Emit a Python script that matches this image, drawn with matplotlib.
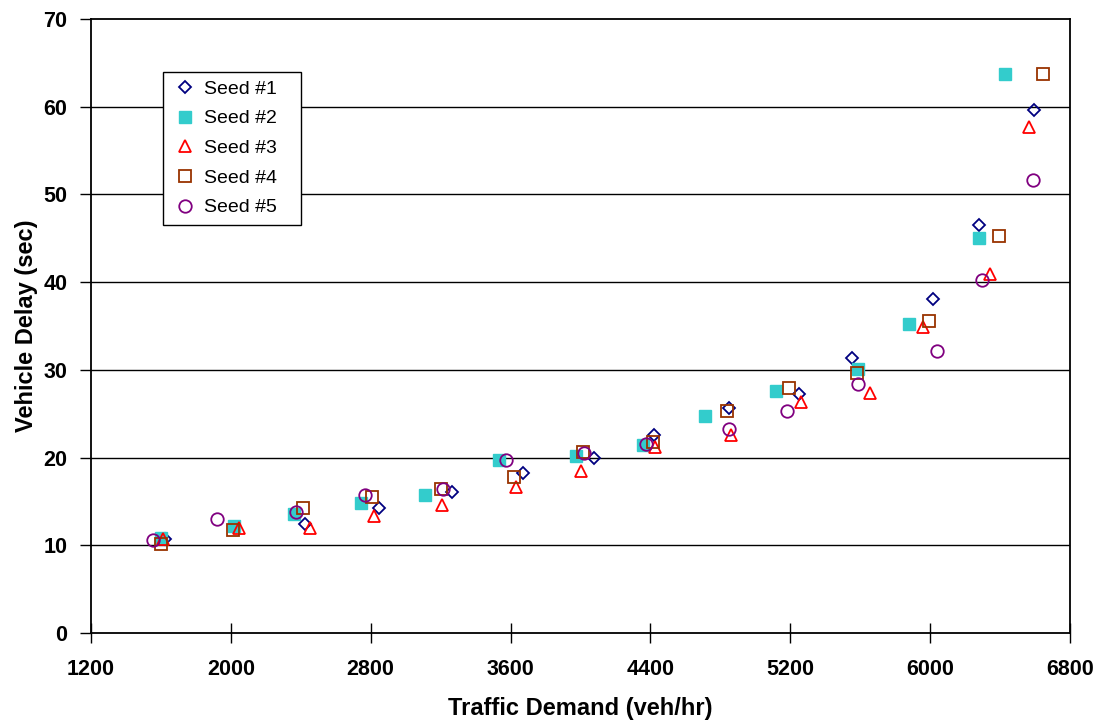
import matplotlib
matplotlib.use("Agg")
import matplotlib.pyplot as plt

plt.rcParams["font.family"] = ["Liberation Sans", "DejaVu Sans"]

# ── Data ──────────────────────────────────────────────────────────────
seed1_x = [1623, 2424, 2847, 3265, 3671, 4077, 4420, 4849, 5250, 5555, 6016, 6279, 6597]
seed1_y = [10.7, 12.4, 14.3, 16.1, 18.2, 19.95, 22.6, 25.7, 27.2, 31.4, 38.1, 46.5, 59.6]

seed2_x = [1600, 2018, 2361, 2744, 3111, 3534, 3976, 4357, 4712, 5118, 5587, 5879, 6279, 6428]
seed2_y = [10.8, 12.2, 13.6, 14.8, 15.7, 19.7, 20.2, 21.4, 24.7, 27.6, 30.1, 35.2, 45.0, 63.7]

seed3_x = [1612, 2047, 2452, 2818, 3208, 3631, 4003, 4426, 4861, 5261, 5656, 5959, 6342, 6565]
seed3_y = [10.7, 12.0, 12.0, 13.3, 14.6, 16.6, 18.5, 21.2, 22.6, 26.3, 27.4, 34.9, 40.9, 57.7]

seed4_x = [1600, 2012, 2413, 2807, 3205, 3620, 4014, 4415, 4838, 5193, 5581, 5993, 6394, 6645]
seed4_y = [10.2, 11.7, 14.3, 15.5, 16.4, 17.8, 20.6, 21.8, 25.3, 27.9, 29.6, 35.6, 45.3, 63.7]

seed5_x = [1555, 1921, 2373, 2767, 3213, 3574, 4020, 4375, 4849, 5181, 5587, 6039, 6296, 6588]
seed5_y = [10.6, 13.0, 13.8, 15.7, 16.4, 19.7, 20.5, 21.5, 23.3, 25.3, 28.4, 32.1, 40.2, 51.6]

x_ticks = [1200, 2000, 2800, 3600, 4400, 5200, 6000, 6800]
y_ticks = [0, 10, 20, 30, 40, 50, 60, 70]

# ── Figure ────────────────────────────────────────────────────────────
fig = plt.figure(figsize=(11.09, 7.21), dpi=100, facecolor="white")
ax = fig.add_axes([0.082, 0.122, 0.8828, 0.8516])

for yv in y_ticks[1:-1]:
    ax.axhline(yv, color="black", lw=1.0, zorder=1)

mk = dict(linestyle="none", zorder=3)
ax.plot(seed1_x, seed1_y, marker="D", ms=6.5, mfc="none", mec="#000080",
        mew=1.3, label="Seed #1", **mk)
ax.plot(seed2_x, seed2_y, marker="s", ms=8.5, mfc="#33CCCC", mec="#33CCCC",
        mew=1.0, label="Seed #2", **mk)
ax.plot(seed3_x, seed3_y, marker="^", ms=9, mfc="none", mec="#FF0000",
        mew=1.3, label="Seed #3", **mk)
ax.plot(seed4_x, seed4_y, marker="s", ms=8.5, mfc="none", mec="#993300",
        mew=1.3, label="Seed #4", **mk)
ax.plot(seed5_x, seed5_y, marker="o", ms=9, mfc="none", mec="#800080",
        mew=1.3, label="Seed #5", **mk)

ax.set_xlim(1200, 6800)
ax.set_ylim(0, 70)
ax.set_xticks(x_ticks)
ax.set_yticks(y_ticks)

for sp in ax.spines.values():
    sp.set_color("black")
    sp.set_linewidth(1.3)

ax.tick_params(axis="x", direction="inout", length=14, width=1, pad=12,
               labelsize=15.5)
ax.tick_params(axis="y", direction="out", length=8, width=1, pad=9,
               labelsize=15.5)
for lbl in ax.get_xticklabels() + ax.get_yticklabels():
    lbl.set_fontweight("bold")

ax.set_xlabel("Traffic Demand (veh/hr)", fontsize=17, fontweight="bold",
              labelpad=12)
ax.set_ylabel("Vehicle Delay (sec)", fontsize=17, fontweight="bold",
              labelpad=4)

# legend box: x 163..301 px, top at 72 px
leg_x, leg_w = 163 / 1109, 138 / 1109
leg_top = 1 - 72 / 721
leg = ax.legend(loc="upper left",
                bbox_to_anchor=(leg_x, leg_top - 0.2, leg_w, 0.2),
                bbox_transform=fig.transFigure, mode="expand",
                fontsize=14, frameon=True, fancybox=False,
                handlelength=1.4, handletextpad=0.3, borderpad=0.42,
                labelspacing=0.62, borderaxespad=0)
leg.get_frame().set_edgecolor("black")
leg.get_frame().set_linewidth(1.0)
leg.get_frame().set_alpha(1)

fig.savefig("out.png", dpi=100, facecolor="white")
